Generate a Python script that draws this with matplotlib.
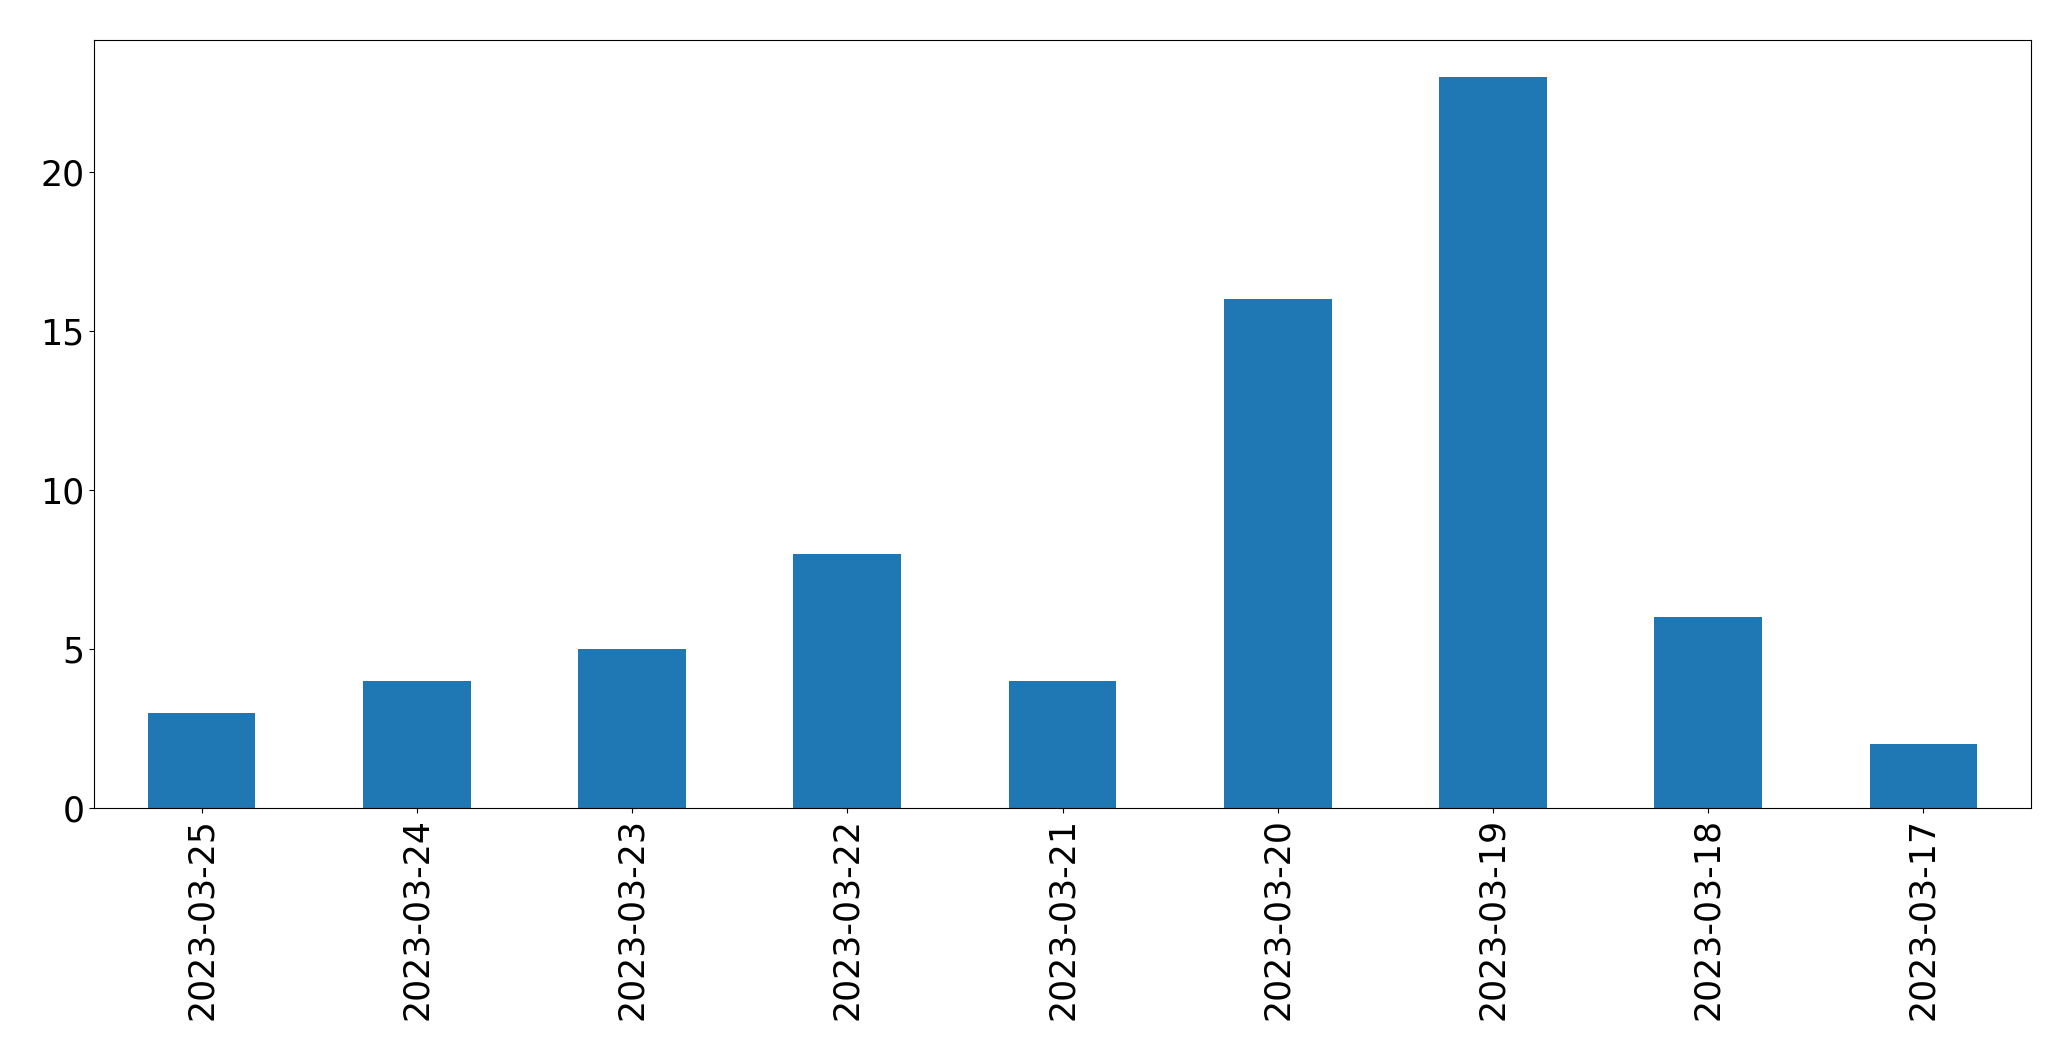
import matplotlib
matplotlib.use("Agg")
import matplotlib.pyplot as plt

# данные по датам
dates = ["2023-03-25", "2023-03-24", "2023-03-23", "2023-03-22", "2023-03-21",
         "2023-03-20", "2023-03-19", "2023-03-18", "2023-03-17"]
counts = [3, 4, 5, 8, 4, 16, 23, 6, 2]

fig = plt.figure(figsize=(20.71, 10.61), dpi=100)
ax = fig.add_axes([0.0454, 0.2385, 0.9353, 0.7238])

x = list(range(len(dates)))
ax.bar(x, counts, width=0.5, color="#1f77b4")
ax.set_xlim(-0.5, len(dates) - 0.5)
ax.set_ylim(0, max(counts) * 1.05)
ax.set_xticks(x)
ax.set_xticklabels(dates, rotation=90)
ax.tick_params(labelsize=25)

fig.savefig("out.png", dpi=100)
